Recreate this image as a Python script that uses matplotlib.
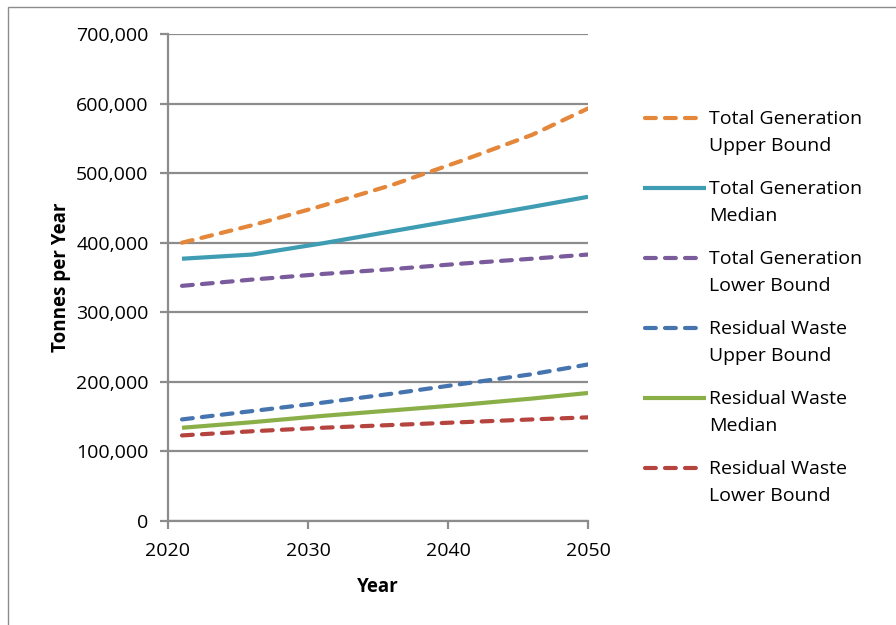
import matplotlib
matplotlib.use("Agg")
import matplotlib.pyplot as plt
from matplotlib.lines import Line2D
from matplotlib.patches import Rectangle
from matplotlib.ticker import FuncFormatter

years = [2021, 2026, 2031, 2036, 2041, 2046, 2050]
total_upper = [400000, 425000, 453000, 483000, 518000, 555000, 593000]
total_median = [377000, 383000, 399000, 416500, 434000, 451500, 466000]
total_lower = [338000, 347000, 355000, 362000, 370000, 377000, 383000]
resid_upper = [146000, 158000, 170000, 183000, 197000, 211000, 225000]
resid_median = [134000, 142000, 151000, 159000, 167000, 176000, 184000]
resid_lower = [123000, 129000, 134000, 138000, 142000, 146000, 149000]

labels = ["Total Generation\nUpper Bound", "Total Generation\nMedian",
          "Total Generation\nLower Bound", "Residual Waste\nUpper Bound",
          "Residual Waste\nMedian", "Residual Waste\nLower Bound"]
series = [total_upper, total_median, total_lower, resid_upper, resid_median, resid_lower]
colors = ["#E4873A", "#3E9CB3", "#7A5C9C", "#4574AF", "#8BAF48", "#B5443F"]
dashed = [True, False, True, True, False, True]

x_ticks = [2020, 2030, 2040, 2050]
y_ticks = [0, 100000, 200000, 300000, 400000, 500000, 600000, 700000]

plt.rcParams["font.family"] = ["Open Sans", "DejaVu Sans"]

W, H = 896, 625
fig = plt.figure(figsize=(W / 100, H / 100), dpi=100)

# outer chart frame
fig.add_artist(Rectangle((8 / W, -0.1), 1.2, 1 - 7 / H + 0.1, transform=fig.transFigure,
                         fill=False, edgecolor="#8C8C8C", linewidth=1.0))

ax = fig.add_axes([168 / W, 1 - 521 / H, (588 - 168) / W, (521 - 34) / H])
grid_c = "#8C8C8C"
lw = 3.0
dash = (2.6, 2.2)
for vals, col, dsh in zip(series, colors, dashed):
    line, = ax.plot(years, vals, color=col, linewidth=lw, solid_capstyle="butt")
    if dsh:
        line.set_dashes(dash)
        line.set_dash_capstyle("round")

ax.set_xlim(2020, 2050)
ax.set_ylim(0, 700000)
ax.set_xticks(x_ticks)
ax.set_yticks(y_ticks)
ax.yaxis.set_major_formatter(FuncFormatter(lambda v, p: f"{int(v):,}"))
ax.grid(axis="y", color=grid_c, linewidth=1.6)
ax.set_axisbelow(True)
for s in ["top", "right"]:
    ax.spines[s].set_visible(False)
for s in ["left", "bottom"]:
    ax.spines[s].set_color(grid_c)
    ax.spines[s].set_linewidth(1.6)
ax.tick_params(axis="both", colors=grid_c, labelcolor="black", labelsize=14,
               length=6, width=1.6)
ax.tick_params(axis="x", pad=9)
ax.tick_params(axis="y", pad=8)
ax.set_xlabel("Year", fontsize=13.5, fontweight="bold", labelpad=12)
ax.set_ylabel("Tonnes per Year", fontsize=13.5, fontweight="bold", labelpad=4)

# legend entries drawn beside the plot
for i, (lab, col, dsh) in enumerate(zip(labels, colors, dashed)):
    yc = 1 - (118 + 70 * i) / H
    if dsh:
        ln = Line2D([645 / W, 697 / W], [yc, yc], transform=fig.transFigure,
                    color=col, linewidth=lw)
        ln.set_dashes(dash)
        ln.set_dash_capstyle("round")
    else:
        ln = Line2D([643 / W, 706 / W], [yc, yc], transform=fig.transFigure,
                    color=col, linewidth=lw, solid_capstyle="butt")
    fig.add_artist(ln)
    fig.text(709 / W, yc + 8 / H, lab, fontsize=14, va="top", ha="left",
             linespacing=1.62)

fig.savefig("out.png", dpi=100)
